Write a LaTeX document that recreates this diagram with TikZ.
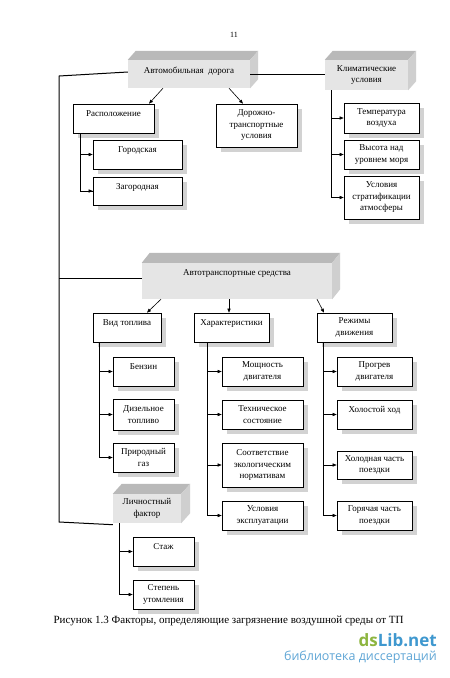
\documentclass[tikz,border=0pt]{standalone}
\usepackage{fontspec}
\setmainfont{Liberation Serif}
\newfontfamily\wmfont{Open Sans}
\usetikzlibrary{shadows,arrows.meta}
\definecolor{wmgreen}{HTML}{8DB53F}
\definecolor{wmblue}{HTML}{3F98CF}
\definecolor{wmlight}{HTML}{5FA6D6}
\newcommand\cubefaces[3]{%
  \fill[gray!55] (#1.north west) -- ++(#2,-#3) -- ([shift={(#2,-#3)}]#1.north east) -- (#1.north east) -- cycle;
  \fill[gray!38] (#1.north east) -- ++(#2,-#3) -- ([shift={(#2,-#3)}]#1.south east) -- (#1.south east) -- cycle;}
\begin{document}
\begin{tikzpicture}[x=1pt,y=-1pt,
  every node/.style={font=\fontsize{9}{11.5}\selectfont},
  bx/.style={draw=black, line width=0.7pt, fill=white, align=center, inner sep=1pt,
     drop shadow={shadow xshift=5pt, shadow yshift=-5pt, fill=gray!35, opacity=1}},
  one/.style={text height=7pt, text depth=11pt},
  cube/.style={fill=gray!20, align=center, inner sep=1pt},
  ln/.style={line width=0.6pt},
  arr/.style={ln, -{Triangle[length=4pt,width=3.2pt]}},
  trunk/.style={line width=1pt}]
\useasboundingbox[fill=white] (0,0) rectangle (450,678);

\node[font=\fontsize{8}{9}\selectfont] (pg) at (234,35) {11};

% top level cubes
\node[cube, minimum width=122pt, minimum height=28pt, text height=7pt, text depth=8pt] (A) at (189,74) {Автомобильная\ \ дорога};
\cubefaces{A}{8}{9}
\node[cube, minimum width=83pt, minimum height=30pt] (K) at (366.5,75) {Климатические\\условия};
\cubefaces{K}{8}{9}
\node[cube, minimum width=190pt, minimum height=36pt, text height=7pt, text depth=18pt] (AS) at (237,281) {Автотранспортные средства};
\cubefaces{AS}{8}{10}
\node[cube, minimum width=68pt, minimum height=29pt] (L) at (147,508.5) {Личностный\\фактор};
\cubefaces{L}{9}{10}

% road
\node[bx, one, minimum width=81pt, minimum height=29pt] (R) at (113.5,118.5) {Расположение};
\node[bx, minimum width=81pt, minimum height=43pt] (D) at (256.5,125.5) {Дорожно-\\транспортные\\условия};
\node[bx, one, minimum width=89pt, minimum height=29pt] (G) at (137.5,154.5) {Городская};
\node[bx, one, minimum width=89pt, minimum height=28pt] (Z) at (137.5,191) {Загородная};

% climate
\node[bx, minimum width=75pt, minimum height=30pt] (T) at (381.5,118) {Температура\\воздуха};
\node[bx, minimum width=75pt, minimum height=29pt] (V) at (381.5,154.5) {Высота над\\уровнем моря};
\node[bx, minimum width=75pt, minimum height=43pt] (U) at (381.5,197.5) {Условия\\стратификации\\атмосферы};

% vehicles
\node[bx, one, minimum width=68pt, minimum height=29pt] (VT) at (127,327.5) {Вид топлива};
\node[bx, one, minimum width=75pt, minimum height=29pt] (X) at (231.5,327.5) {Характеристики};
\node[bx, minimum width=75pt, minimum height=29pt] (RD) at (354.5,327.5) {Режимы\\движения};

\node[bx, one, minimum width=61pt, minimum height=29pt] (B1) at (143.5,371.5) {Бензин};
\node[bx, minimum width=61pt, minimum height=31pt] (B2) at (143.5,414.5) {Дизельное\\топливо};
\node[bx, minimum width=61pt, minimum height=29pt] (B3) at (143.5,457.5) {Природный\\газ};

\node[bx, minimum width=81pt, minimum height=29pt] (C1) at (262.5,371.5) {Мощность\\двигателя};
\node[bx, minimum width=81pt, minimum height=29pt] (C2) at (262.5,414.5) {Техническое\\состояние};
\node[bx, minimum width=81pt, minimum height=44pt] (C3) at (262.5,465) {Соответствие\\экологическим\\нормативам};
\node[bx, minimum width=81pt, minimum height=29pt] (C4) at (262.5,515.5) {Условия\\эксплуатации};

\node[bx, minimum width=75pt, minimum height=29pt] (M1) at (374.5,371.5) {Прогрев\\двигателя};
\node[bx, one, minimum width=75pt, minimum height=29pt] (M2) at (374.5,414.5) {Холостой ход};
\node[bx, minimum width=75pt, minimum height=28pt] (M3) at (374.5,465) {Холодная часть\\поездки};
\node[bx, minimum width=75pt, minimum height=29pt] (M4) at (374.5,515.5) {Горячая часть\\поездки};

% personal
\node[bx, one, minimum width=61pt, minimum height=29pt] (P1) at (163.5,551.5) {Стаж};
\node[bx, minimum width=61pt, minimum height=29pt] (P2) at (163.5,594.5) {Степень\\утомления};

% connectors
\coordinate (tl) at (59,76);
\coordinate (tas) at (59,278);
\coordinate (tb) at (59,522);
\draw[trunk] ([yshift=2pt]A.west) -- (tl) -- (tb) -- ([yshift=-1.5pt]L.south west);
\draw[trunk] (tas) -- ([yshift=3pt]AS.west);
\draw[trunk] (A.east) -- (A.east -| K.west);

\draw[arr] ([xshift=-26pt]A.south) -- ([xshift=35.5pt]R.north);
\draw[arr] ([xshift=40pt]A.south) -- ([xshift=-13.5pt]D.north);

\draw[ln] ([xshift=8pt]R.south west) |- (Z.west);
\draw[arr] ([xshift=8pt]R.south west) |- (G.west);
\draw[arr] ([xshift=8pt]R.south west) |- (Z.west);

\draw[arr] ([xshift=6pt]K.south west) |- (T.west);
\draw[arr] ([xshift=6pt]K.south west) |- (V.west);
\draw[arr] ([xshift=6pt]K.south west) |- (U.west);

\draw[arr] ([xshift=-76pt]AS.south) -- ([xshift=20pt]VT.north);
\draw[arr] ([xshift=-8pt]AS.south) -- ([xshift=-8pt]AS.south |- X.north);
\draw[arr] ([xshift=80pt]AS.south) -- ([xshift=-30.5pt]RD.north);

\draw[arr] ([xshift=7pt]VT.south west) |- (B1.west);
\draw[arr] ([xshift=7pt]VT.south west) |- (B2.west);
\draw[arr] ([xshift=7pt]VT.south west) |- (B3.west);

\draw[arr] ([xshift=14pt]X.south west) |- (C1.west);
\draw[arr] ([xshift=14pt]X.south west) |- (C2.west);
\draw[arr] ([xshift=14pt]X.south west) |- (C3.west);
\draw[arr] ([xshift=14pt]X.south west) |- (C4.west);

\draw[arr] ([xshift=7pt]RD.south west) |- (M1.west);
\draw[arr] ([xshift=7pt]RD.south west) |- (M2.west);
\draw[arr] ([xshift=7pt]RD.south west) |- (M3.west);
\draw[arr] ([xshift=7pt]RD.south west) |- (M4.west);

\draw[arr] ([xshift=6pt]L.south west) |- (P1.west);
\draw[arr] ([xshift=6pt]L.south west) |- (P2.west);

% caption
\node[font=\fontsize{11}{13}\selectfont, anchor=west] (cap) at (50,621) {Рисунок 1.3 Факторы, определяющие загрязнение воздушной среды от ТП};

% watermark
\node[font=\wmfont\bfseries\fontsize{17}{19}\selectfont, anchor=east, inner sep=0pt] (wm1) at (437,640) {\textcolor{wmgreen}{ds}\textcolor{wmblue}{Lib.net}};
\node[font=\wmfont\fontsize{12.5}{14}\selectfont, anchor=east, inner sep=0pt, text=wmlight] (wm2) at (437,657) {библиотека диссертаций};
\end{tikzpicture}
\end{document}
